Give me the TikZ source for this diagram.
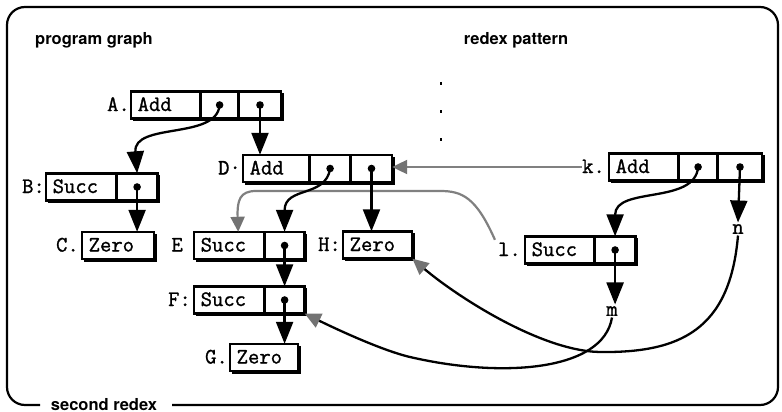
\documentclass[tikz,border=0pt]{standalone}
\usepackage{fontspec}
\setsansfont{TeX Gyre Heros}
\newfontfamily\cellfont{Latin Modern Mono}[FakeBold=1.2]
\usetikzlibrary{arrows.meta,calc}
\newcommand\myframecells[2]{%
  \draw[line width=2pt] (#1.north west) rectangle (#2.south east);
  \draw[line width=1.8pt] ($(#1.south west)+(2,1.7)$) -- ($(#2.south east)+(1.7,1.7)$) -- ($(#2.north east)+(1.7,2)$);}
\begin{document}
\begin{tikzpicture}[x=1pt,y=-1pt,
  cell/.style={draw, line width=1.4pt, minimum height=26pt, inner xsep=6pt, inner ysep=0pt,
    font=\fontsize{22}{24}\selectfont\cellfont, text height=13pt, text depth=1pt, anchor=west},
  namecell/.style={cell, align=left},
  lbl/.style={inner sep=0pt, font=\fontsize{22}{24}\selectfont\cellfont, text height=13pt, text depth=1pt, anchor=east},
  var/.style={inner sep=1.5pt, font=\fontsize{22}{24}\selectfont\cellfont},
  heading/.style={font=\fontsize{16.5}{18}\selectfont\sffamily\bfseries, inner sep=0pt, anchor=base},
  link/.style={line width=2.3pt, -{Triangle[length=22pt,width=17pt]}},
  glink/.style={line width=2.2pt, black!50, -{Triangle[length=15pt,width=14pt,color=black!55,fill=black!55]}},
  blink/.style={line width=2.3pt, -{Triangle[length=16pt,width=15pt,color=black!55,fill=black!55]}},
  frameline/.style={line width=2.2pt, rounded corners=18pt},
  sep/.style={line width=1.8pt, dash pattern=on 3pt off 25pt}
]
\useasboundingbox (0,0) rectangle (782,412);

% outer frame
\draw[frameline] (40,405) -- (7,405) -- (7,7) -- (778,7) -- (778,405) -- (172,405);
\node[heading] (pg) at (94,45) {program graph};
\node[heading] (rp) at (516,45) {redex pattern};
\node[heading] (sr) at (104,410) {second redex};

% separator
\draw[sep] (441,82) -- (441,150);

% program graph cells
\node[namecell, text width=56pt] (A) at (131,105) {Add};
\node[cell, minimum width=37pt] (A1) at (A.east) {};
\node[cell, minimum width=41pt] (A2) at (A1.east) {};
\myframecells{A}{A2}
\node[lbl] (Alab) at (130,105) {A.};

\node[namecell, text width=57pt] (B) at (46,187) {Succ};
\node[cell, minimum width=40pt] (B1) at (B.east) {};
\myframecells{B}{B1}
\node[lbl] (Blab) at (45,187) {B:};

\node[namecell, text width=59pt] (C) at (82,245.5) {Zero};
\myframecells{C}{C}
\node[lbl] (Clab) at (79,245.5) {C.};

\node[namecell, text width=53pt] (D) at (243,168.5) {Add};
\node[cell, minimum width=40pt] (D1) at (D.east) {};
\node[cell, minimum width=40pt] (D2) at (D1.east) {};
\myframecells{D}{D2}
\node[lbl] (Dlab) at (241,168.5) {D·};

\node[namecell, text width=57pt] (E) at (194,245.5) {Succ};
\node[cell, minimum width=39pt] (E1) at (E.east) {};
\myframecells{E}{E1}
\node[lbl] (Elab) at (183,245.5) {E};

\node[namecell, text width=56pt] (H) at (343,245) {Zero};
\myframecells{H}{H}
\node[lbl] (Hlab) at (341,245) {H:};

\node[namecell, text width=57pt] (F) at (194,300) {Succ};
\node[cell, minimum width=39pt] (F1) at (F.east) {};
\myframecells{F}{F1}
\node[lbl] (Flab) at (191,300) {F:};

\node[namecell, text width=55pt] (G) at (230,357.5) {Zero};
\myframecells{G}{G}
\node[lbl] (Glab) at (228,357.5) {G.};

% redex pattern cells
\node[namecell, text width=56pt] (k) at (609,167) {Add};
\node[cell, minimum width=38pt] (k1) at (k.east) {};
\node[cell, minimum width=43pt] (k2) at (k1.east) {};
\myframecells{k}{k2}
\node[lbl] (klab) at (605,167) {k.};

\node[namecell, text width=56pt] (l) at (525,250) {Succ};
\node[cell, minimum width=40pt] (l1) at (l.east) {};
\myframecells{l}{l1}
\node[lbl] (llab) at (521,250) {l.};

\node[var] (n) at (738,229) {n};
\node[var] (m) at (612,311) {m};

% gray (rewrite) connectors
\draw[glink] (klab.west) -- (klab.west -| D2.east);
\draw[glink] ($(llab.north west)+(-3,-3)$) .. controls (476,197) and (462,191) .. (440,191)
  -- (256,191) .. controls (240,191) and (237,200) .. ($(E.north)+(9,0)$);
\draw[blink] (m.south) .. controls (603,372) and (500,378) .. (410,357)
  .. controls (380,350) and (330,326) .. (F1.south east);
\draw[blink] (n.south) .. controls (730,330) and (680,353) .. (600,352)
  .. controls (540,351) and (455,295) .. (H.south east);

% pointer connectors
\foreach \p in {A1,A2,B1,D1,D2,E1,F1,k1,k2,l1} {\fill (\p.center) circle[radius=3.8pt];}
\draw[link] (A1.center) .. controls (217,140) and (133,122) .. (B1.north);
\draw[link] (A2.center) -- (A2.center |- D.north);
\draw[link] (B1.center) -- (B1.center |- C.north);
\draw[link] (D1.center) .. controls (326,198) and (E1.center |- 0,186) .. (E1.north);
\draw[link] (D2.center) -- (D2.center |- H.north);
\draw[link] (E1.center) -- (E1.center |- F.north);
\draw[link] (F1.center) -- (F1.center |- G.north);
\draw[link] (k1.center) .. controls (695,205) and (l1.center |- 0,186) .. (l1.north);
\draw[link] (k2.center) -- (n.north);
\draw[link] (l1.center) -- (l1.center |- m.north);
\end{tikzpicture}
\end{document}
